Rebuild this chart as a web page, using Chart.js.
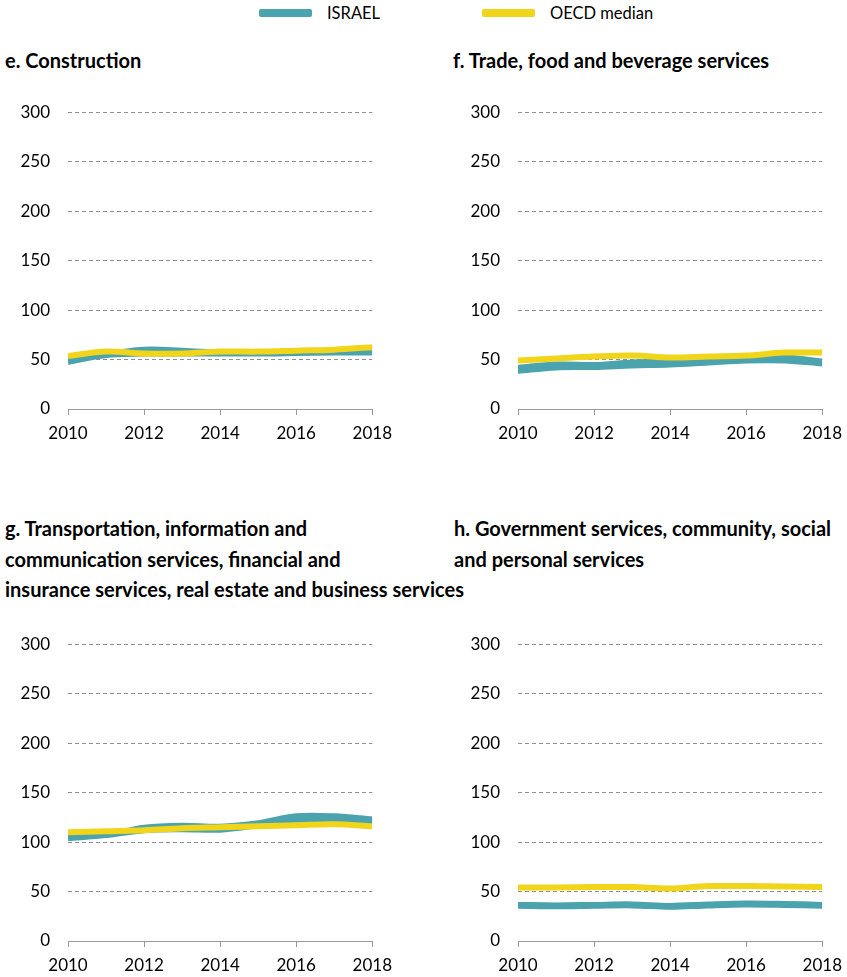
<!DOCTYPE html>
<html>
<head>
<meta charset="utf-8">
<script src="https://cdn.jsdelivr.net/npm/chart.js@4"></script>
<style>
  body { margin: 0; background: #fff; font-family: Lato, "Noto Sans", sans-serif; overflow: hidden; }
  #page { position: relative; width: 847px; height: 977px; overflow: hidden; }
  .title { position: absolute; font-weight: bold; font-size: 20px; line-height: 30.5px; color: #000; white-space: nowrap; }
  .legend { position: absolute; top: 3px; font-size: 16.5px; color: #000; display: flex; align-items: center; }
  .sw { display: inline-block; width: 53px; height: 8px; border-radius: 2px; margin-right: 15px; }
  canvas { position: absolute; }
</style>
</head>
<body>
<div id="page">
  <div class="legend" style="left:259px"><span class="sw" style="background:rgb(75,163,174)"></span>ISRAEL</div>
  <div class="legend" style="left:482px"><span class="sw" style="background:rgb(240,213,26)"></span>OECD median</div>

  <div class="title" style="left:5px;top:45px">e. Construction</div>
  <div class="title" style="left:453px;top:45px">f. Trade, food and beverage services</div>
  <div class="title" style="left:5px;top:513px">g. Transportation, information and<br>communication services, financial and<br>insurance services, real estate and business services</div>
  <div class="title" style="left:454px;top:513px">h. Government services, community, social<br>and personal services</div>

  <canvas id="chartE" style="left:0px;top:84px" width="400" height="365"></canvas>
  <canvas id="chartF" style="left:450px;top:84px" width="400" height="365"></canvas>
  <canvas id="chartG" style="left:0px;top:616px" width="400" height="361"></canvas>
  <canvas id="chartH" style="left:450px;top:616px" width="400" height="361"></canvas>
</div>
<script>
const years = [2010, 2011, 2012, 2013, 2014, 2015, 2016, 2017, 2018];
const yTicks = [0, 50, 100, 150, 200, 250, 300];

// Israel shown as a band (upper / lower edge), OECD median as a line
const constructionIsraelHi = [52, 56, 60.5, 59.5, 57.5, 56.5, 57.5, 57.5, 57.5];
const constructionIsraelLo = [47, 54, 55.5, 55.5, 55.5, 55.5, 56, 56.5, 56.5];
const constructionOecd = [53.5, 58, 56, 56, 58, 58, 59, 60, 62.5];

const tradeIsraelHi = [42, 45.5, 45, 47.5, 48.5, 49.5, 51.5, 52.5, 48.5];
const tradeIsraelLo = [38, 41.5, 42, 43.5, 44.5, 46.5, 48.5, 48.5, 45.5];
const tradeOecd = [49, 51, 53, 54, 52, 53, 54, 57, 57];

const transportIsraelHi = [105.5, 107.5, 115, 117, 116, 119.5, 126.5, 126.5, 123.5];
const transportIsraelLo = [103.5, 106.5, 111.5, 112.5, 112, 116.5, 122, 122, 120.5];
const transportOecd = [110, 111, 112, 114, 115, 116, 117, 118, 116];

const governmentIsraelHi = [37, 36.5, 37, 37.5, 36, 37.5, 38.5, 38, 37];
const governmentIsraelLo = [35, 34.5, 35, 35.5, 34, 35.5, 36.5, 36, 35];
const governmentOecd = [54, 54, 54.5, 54.5, 53, 55.5, 55.5, 55, 54.5];

const TEAL = 'rgb(75,163,174)';
const YELLOW = 'rgb(240,213,26)';

function pts(vals) {
  return years.map((y, i) => ({ x: y, y: vals[i] }));
}

function makeChart(id, hi, lo, oecd, xHeight) {
  const ctx = document.getElementById(id).getContext('2d');
  return new Chart(ctx, {
    type: 'line',
    data: {
      datasets: [
        { // on top
          data: pts(oecd),
          borderColor: YELLOW,
          borderWidth: 6,
          fill: false,
          tension: 0.35,
        },
        {
          data: pts(hi),
          borderColor: TEAL,
          backgroundColor: TEAL,
          borderWidth: 5,
          fill: '+1',
          tension: 0.35,
        },
        {
          data: pts(lo),
          borderColor: TEAL,
          borderWidth: 5,
          fill: false,
          tension: 0.35,
        },
      ],
    },
    options: {
      responsive: false,
      animation: false,
      elements: { point: { radius: 0 } },
      layout: { padding: { top: 16, right: 18, left: 0, bottom: 0 } },
      plugins: { legend: { display: false }, tooltip: { enabled: false } },
      scales: {
        x: {
          type: 'linear',
          min: 2010,
          max: 2018,
          ticks: {
            stepSize: 2,
            color: '#000',
            font: { family: 'Lato', size: 17 },
            padding: 8,
            maxRotation: 0,
            callback: (v) => String(v),
          },
          grid: { drawOnChartArea: false, drawTicks: true, tickLength: 6, color: '#999' },
          border: { display: true, color: '#999', width: 1 },
          afterFit: (s) => { s.height = xHeight; },
        },
        y: {
          min: 0,
          max: 300,
          afterBuildTicks: (s) => { s.ticks = yTicks.map((v) => ({ value: v })); },
          ticks: {
            color: '#000',
            font: { family: 'Lato', size: 17 },
            padding: 18,
          },
          grid: { drawTicks: false, color: '#8f8f8f', lineWidth: 1 },
          border: { display: false, dash: [4, 3] },
          afterFit: (s) => { s.width = 68; },
        },
      },
    },
  });
}

makeChart('chartE', constructionIsraelHi, constructionIsraelLo, constructionOecd, 40);
makeChart('chartF', tradeIsraelHi, tradeIsraelLo, tradeOecd, 40);
makeChart('chartG', transportIsraelHi, transportIsraelLo, transportOecd, 36);
makeChart('chartH', governmentIsraelHi, governmentIsraelLo, governmentOecd, 36);
</script>
</body>
</html>
